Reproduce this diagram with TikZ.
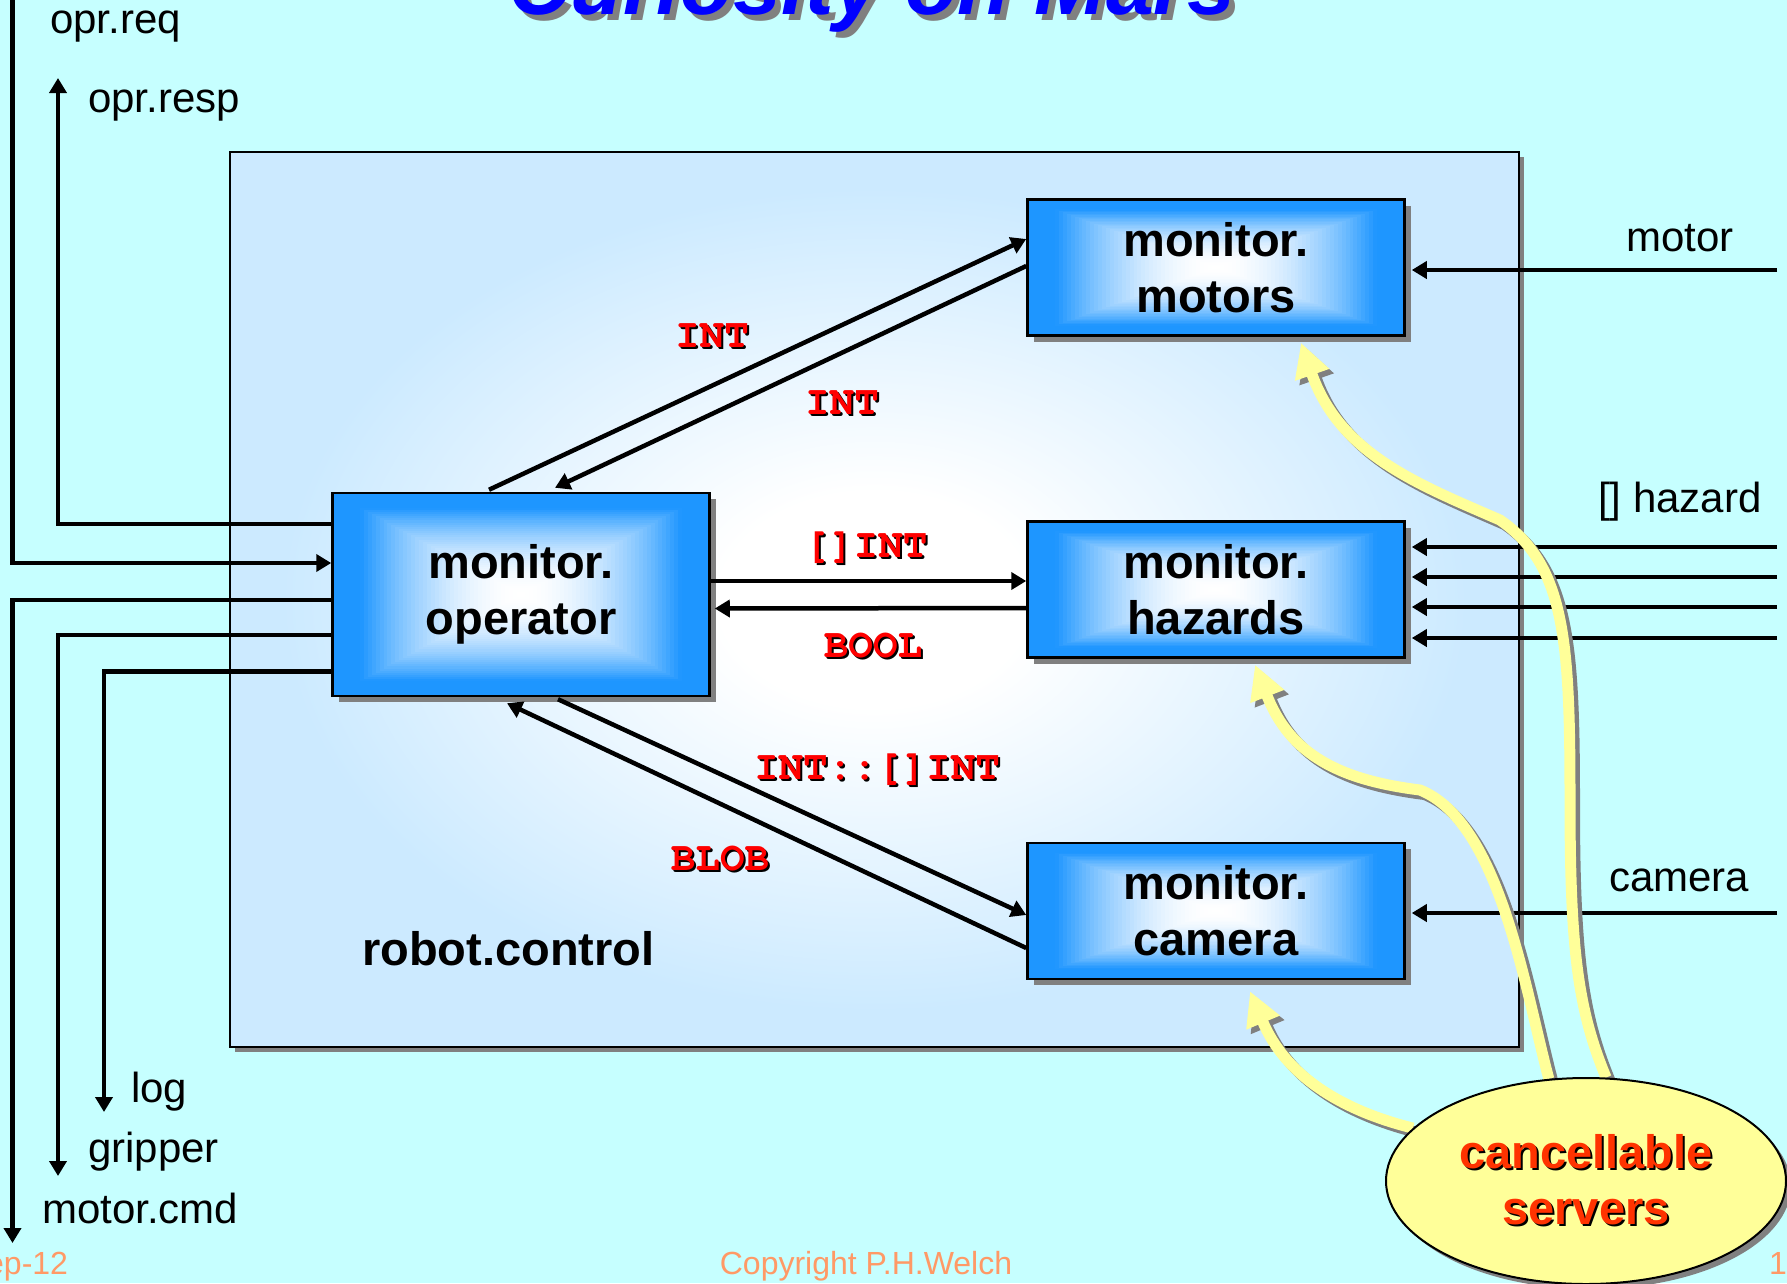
\documentclass[tikz,border=0pt]{standalone}
\usepackage[T1,TU]{fontenc}
\usepackage{fontspec}
\setmainfont{Liberation Sans}
\newcommand\typefont{\fontencoding{T1}\fontfamily{pcr}\selectfont}
\usetikzlibrary{arrows.meta,shadows,calc,shapes.geometric}

\definecolor{slidebg}{RGB}{198,255,255}
\definecolor{panelblue}{RGB}{204,234,255}
\definecolor{boxblue}{RGB}{30,150,255}
\definecolor{shadowgray}{RGB}{128,128,128}
\definecolor{noteyellow}{RGB}{255,255,153}
\definecolor{notered}{RGB}{255,51,0}
\definecolor{footorange}{RGB}{255,153,102}
\definecolor{titleblue}{RGB}{0,0,255}
\definecolor{typered}{RGB}{255,0,0}

% soft white centre of the robot.control panel
\pgfdeclareradialshading{panelglow}{\pgfpoint{0bp}{0bp}}{color(0bp)=(white); color(6bp)=(white); color(23bp)=(panelblue); color(50bp)=(panelblue)}

\pgfdeclarelayer{front}
\pgfsetlayers{main,front}

% text with an offset copy of itself underneath
\newcommand\offsettext[3]{\leavevmode\rlap{\kern#1\raisebox{-#1}{\textcolor{#2}{#3}}}#3}

\tikzset{
  wire/.style={line width=4.5bp, line join=miter},
  wirearrow/.style={wire, -{Triangle[length=15bp,width=17bp]}},
  % blue box whose colour fades to white towards the centre (rectangular glow)
  process/.style={rectangle, draw=black, line width=2.5bp, inner sep=0pt, fill=boxblue,
    minimum width=377bp, minimum height=136bp, align=center,
    font=\fontsize{47bp}{56bp}\selectfont\bfseries,
    drop shadow={shadow xshift=6bp, shadow yshift=-6bp, fill=shadowgray, opacity=1},
    path picture={
      \foreach \k in {1,...,48}{
        \pgfmathsetmacro\frac{1-\k/48}
        \pgfmathsetmacro\ramp{max(0,(\k/48-0.14)/0.86)}
        \pgfmathsetmacro\whiteness{100*(1-(1-\ramp)^2)}
        \fill[white!\whiteness!boxblue]
          ($(path picture bounding box.center)!\frac!(path picture bounding box.north west)$) rectangle
          ($(path picture bounding box.center)!\frac!(path picture bounding box.south east)$);
      }
    }},
  panel/.style={rectangle, draw=black, line width=2.5bp, inner sep=0pt, shade, shading=panelglow,
    drop shadow={shadow xshift=5bp, shadow yshift=-5bp, fill=shadowgray, opacity=1}},
  typelab/.style={text=typered, inner sep=0pt, font=\typefont\bfseries\fontsize{41bp}{41bp}\selectfont},
  portlab/.style={anchor=base west, inner sep=0pt, font=\fontsize{42bp}{42bp}\selectfont},
  footer/.style={text=footorange, inner sep=0pt, font=\fontsize{32bp}{32bp}\selectfont},
  servarrow/.style={line width=11bp, -{Triangle[length=34bp,width=34bp]}},
}

\begin{document}
\begin{tikzpicture}[x=1bp, y=-1bp]
\useasboundingbox (0,0) rectangle (1787,1283);
\fill[slidebg] (0,0) rectangle (1787,1283);

% title
\node[anchor=base, inner sep=0pt, text=titleblue, font=\fontsize{86bp}{86bp}\bfseries\itshape\selectfont] (title) at (872,14) {\offsettext{6bp}{shadowgray}{Curiosity on Mars}};

% robot.control panel
\node[panel, minimum width=1289bp, minimum height=895bp] (robot) at (874.5,599.5) {};
\node[anchor=base west, inner sep=0pt, font=\fontsize{47bp}{47bp}\selectfont\bfseries] (robotname) at (362,965) {robot.control};

% processes
\node[process] (mot) at (1216,267.5) {monitor.\\motors};
\node[process] (haz) at (1216,589.5) {monitor.\\hazards};
\node[process] (cam) at (1216,911) {monitor.\\camera};
\node[process, minimum height=203bp] (op) at (521,594.5) {monitor.\\operator};

% internal channels
\draw[wirearrow] ($(op.north)+(-32,-2)$) -- ($(mot.west)+(0,-28.5)$);
\draw[wirearrow] ($(mot.west)+(0,-1.5)$) -- ($(op.north)+(34,-4)$);
\draw[wirearrow] ($(op.east)+(0,-13.5)$) -- ($(haz.west)+(0,-8.5)$);
\draw[wirearrow] ($(haz.west)+(0,18.5)$) -- ($(op.east)+(4,14)$);
\draw[wirearrow] ($(op.south)+(37,2)$) -- ($(cam.west)+(0,4)$);
\draw[wirearrow] ($(cam.west)+(0,37)$) -- ($(op.south)+(-14,6)$);

\node[typelab] (tint1) at (712,337) {\offsettext{2bp}{black}{INT}};
\node[typelab] (tint2) at (842,404) {\offsettext{2bp}{black}{INT}};
\node[typelab] (tarr) at (866,548) {\offsettext{2bp}{black}{[]INT}};
\node[typelab] (tbool) at (873,647) {\offsettext{2bp}{black}{BOOL}};
\node[typelab] (tpair) at (877,770) {\offsettext{2bp}{black}{INT::[]INT}};
\node[typelab] (tblob) at (720,860) {\offsettext{2bp}{black}{BLOB}};

% operator side channels
\coordinate (reqsrc) at (12.5,-2);
\coordinate (respdst) at (58,78);
\coordinate (cmddst) at (12.5,1243);
\coordinate (gripdst) at (58,1176);
\coordinate (logdst) at (104,1112);
\draw[wirearrow] (reqsrc) |- ($(op.west)+(0,-31.5)$);
\draw[wirearrow] ($(op.west)+(0,-70.5)$) -| (respdst);
\draw[wirearrow] ($(op.west)+(0,5.5)$) -| (cmddst);
\draw[wirearrow] ($(op.west)+(0,40.5)$) -| (gripdst);
\draw[wirearrow] ($(op.west)+(0,77)$) -| (logdst);

\node[portlab] (lreq) at (50,33) {opr.req};
\node[portlab] (lresp) at (88,112) {opr.resp};
\node[portlab] (llog) at (131,1102) {log};
\node[portlab] (lgrip) at (88,1162) {gripper};
\node[portlab] (lcmd) at (42,1223) {motor.cmd};

% sensor channels
\coordinate (motsrc) at (1777,270);
\draw[wirearrow] (motsrc) -- ($(motsrc -| mot.east)+(6,0)$);
\foreach \yy in {547,577,607,638}{
  \coordinate (hz\yy) at (1777,\yy);
  \draw[wirearrow] (hz\yy) -- ($(hz\yy -| haz.east)+(6,0)$);
}
\coordinate (camsrc) at (1777,913);
\draw[wirearrow] (camsrc) -- ($(camsrc -| cam.east)+(6,0)$);

\node[portlab] (lmotor) at (1626,251) {motor};
\node[portlab] (lhaz) at (1598,512) {[] hazard};
\node[portlab] (lcam) at (1609,891) {camera};

% cancellable servers note
\begin{pgfonlayer}{front}
\node[ellipse, draw=black, line width=2bp, fill=noteyellow, minimum width=400bp, minimum height=206bp,
      inner sep=0pt, align=center, text=notered, font=\fontsize{47bp}{56bp}\selectfont\bfseries,
      drop shadow={shadow xshift=5bp, shadow yshift=-5bp, fill=shadowgray, opacity=1}] (srv) at (1586,1181)
  {\offsettext{2bp}{black}{cancellable}\\\offsettext{2bp}{black}{servers}};
\end{pgfonlayer}

\foreach \off/\col in {4.5/shadowgray,0/noteyellow}{
  \begin{scope}[transform canvas={shift={(\off,\off)}}]
    \draw[servarrow, draw=\col] (srv.163) .. controls (1340,1110) and (1285,1075) .. ($(cam.south)+(34,11)$);
    \draw[servarrow, draw=\col] (srv.110) .. controls (1525,990) and (1500,822) .. (1420,790)
      .. controls (1340,780) and (1290,755) .. ($(haz.south)+(39,6)$);
    \draw[servarrow, draw=\col] (srv.79) .. controls (1578,1010) and (1570,950) .. (1570,800)
      .. controls (1570,640) and (1565,565) .. (1500,520)
      .. controls (1420,485) and (1340,455) .. ($(mot.south)+(85,6)$);
  \end{scope}
}

% footer
\node[footer, anchor=base west] (fdate) at (-14,1274) {ep-12};
\node[footer, anchor=base] (fcopy) at (866,1274) {Copyright P.H.Welch};
\node[footer, anchor=base west] (fpage) at (1769,1274) {1};
\end{tikzpicture}
\end{document}
